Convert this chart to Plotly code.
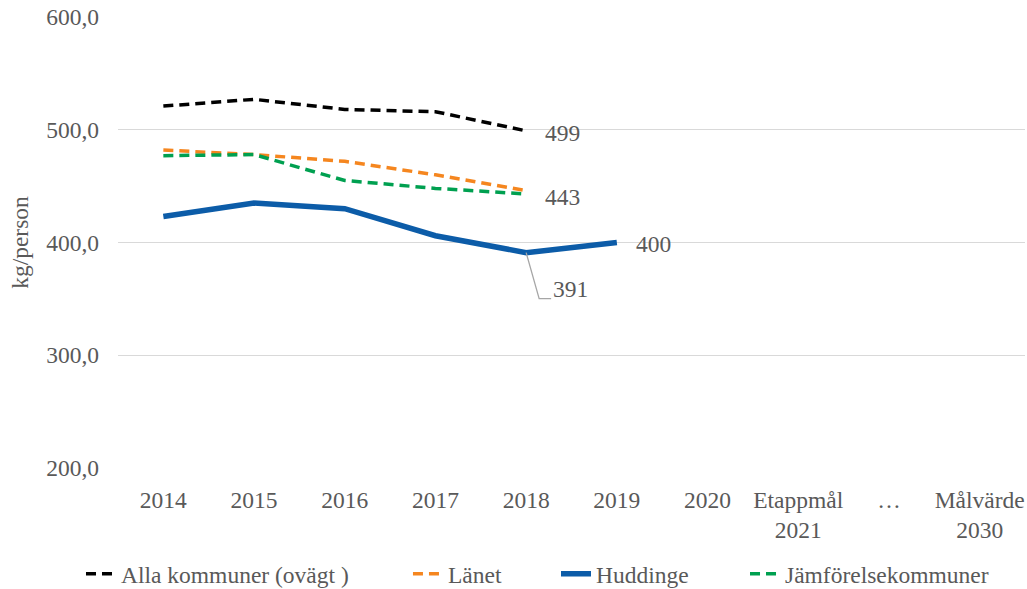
import plotly.graph_objects as go

categories = ["2014", "2015", "2016", "2017", "2018", "2019", "2020",
              "Etappmål<br>2021", "…", "Målvärde<br>2030"]
alla = [521, 527, 518, 516, 499]
lanet = [482, 478, 472, 460, 446]
huddinge = [423, 435, 430, 406, 391, 400]
jamfor = [477, 478, 455, 448, 443]
y_ticks = [200, 300, 400, 500, 600]

FONT = "Liberation Serif, Times New Roman, serif"
GRAY = "#595959"
FS = 23.5

fig = go.Figure()
fig.add_trace(go.Scatter(x=categories[:len(alla)], y=alla, mode="lines",
                         name="Alla kommuner (ovägt )", legend="legend",
                         line=dict(color="#000000", width=3.5, dash="10px,6px")))
fig.add_trace(go.Scatter(x=categories[:len(lanet)], y=lanet, mode="lines",
                         name="Länet", legend="legend2",
                         line=dict(color="#F5861F", width=3.5, dash="10px,6px")))
fig.add_trace(go.Scatter(x=categories[:len(huddinge)], y=huddinge, mode="lines",
                         name="Huddinge", legend="legend3",
                         line=dict(color="#0C5CA8", width=5.5)))
fig.add_trace(go.Scatter(x=categories[:len(jamfor)], y=jamfor, mode="lines",
                         name="Jämförelsekommuner", legend="legend4",
                         line=dict(color="#00A050", width=3.5, dash="10px,6px")))

# data labels (category axis -> numeric index for annotations)
i18 = categories.index("2018")
i19 = categories.index("2019")
fig.add_annotation(x=i18, y=alla[4], text=f"{alla[4]}", showarrow=False,
                   xanchor="left", xshift=17, yshift=-2)
fig.add_annotation(x=i18, y=jamfor[4], text=f"{jamfor[4]}", showarrow=False,
                   xanchor="left", xshift=17, yshift=-3)
fig.add_annotation(x=i19, y=huddinge[5], text=f"{huddinge[5]}", showarrow=False,
                   xanchor="left", xshift=17, yshift=-1)
fig.add_annotation(x=i18, y=huddinge[4], text=f"{huddinge[4]}", showarrow=False,
                   xanchor="left", xshift=25, yshift=-36)
fig.add_shape(type="path", xref="x", yref="y", xsizemode="pixel", ysizemode="pixel",
              xanchor=i18, yanchor=huddinge[4],
              path="M0,0 L13,-46 L25,-46",
              line=dict(color="#A6A6A6", width=1.3))

legend_common = dict(orientation="h", y=-0.235, yanchor="middle", xanchor="left",
                     font=dict(family=FONT, size=FS, color=GRAY), itemwidth=30,
                     bgcolor="rgba(0,0,0,0)")

fig.update_layout(
    width=1027, height=600,
    margin=dict(l=118, r=2, t=17, b=132),
    paper_bgcolor="white", plot_bgcolor="white",
    font=dict(family=FONT, size=FS, color=GRAY),
    separators=", ",
    showlegend=True,
    legend=dict(x=-0.0408, **legend_common),
    legend2=dict(x=0.3197, **legend_common),
    legend3=dict(x=0.4829, **legend_common),
    legend4=dict(x=0.6913, **legend_common),
    xaxis=dict(type="category", categoryorder="array", categoryarray=categories,
               range=[-0.5, len(categories) - 0.5], showgrid=False, zeroline=False,
               showline=False, ticks="", ticklabelstandoff=15, automargin=False,
               tickfont=dict(family=FONT, size=FS, color=GRAY)),
    yaxis=dict(range=[200, 600], tickvals=y_ticks, tickformat=".1f",
               showgrid=True, gridcolor="#D9D9D9", gridwidth=1.3, zeroline=False,
               showline=False, ticks="", ticklabelstandoff=18, automargin=False,
               ticklabeloverflow="allow",
               title=dict(text="kg/person", standoff=10,
                          font=dict(family=FONT, size=FS, color=GRAY)),
               tickfont=dict(family=FONT, size=FS, color=GRAY)),
)

fig.write_html(
    "out.html",
    config={"displayModeBar": False},
    post_script="document.body.style.margin='0';"
                "document.documentElement.style.overflow='hidden';"
                "document.body.style.overflow='hidden';",
)
